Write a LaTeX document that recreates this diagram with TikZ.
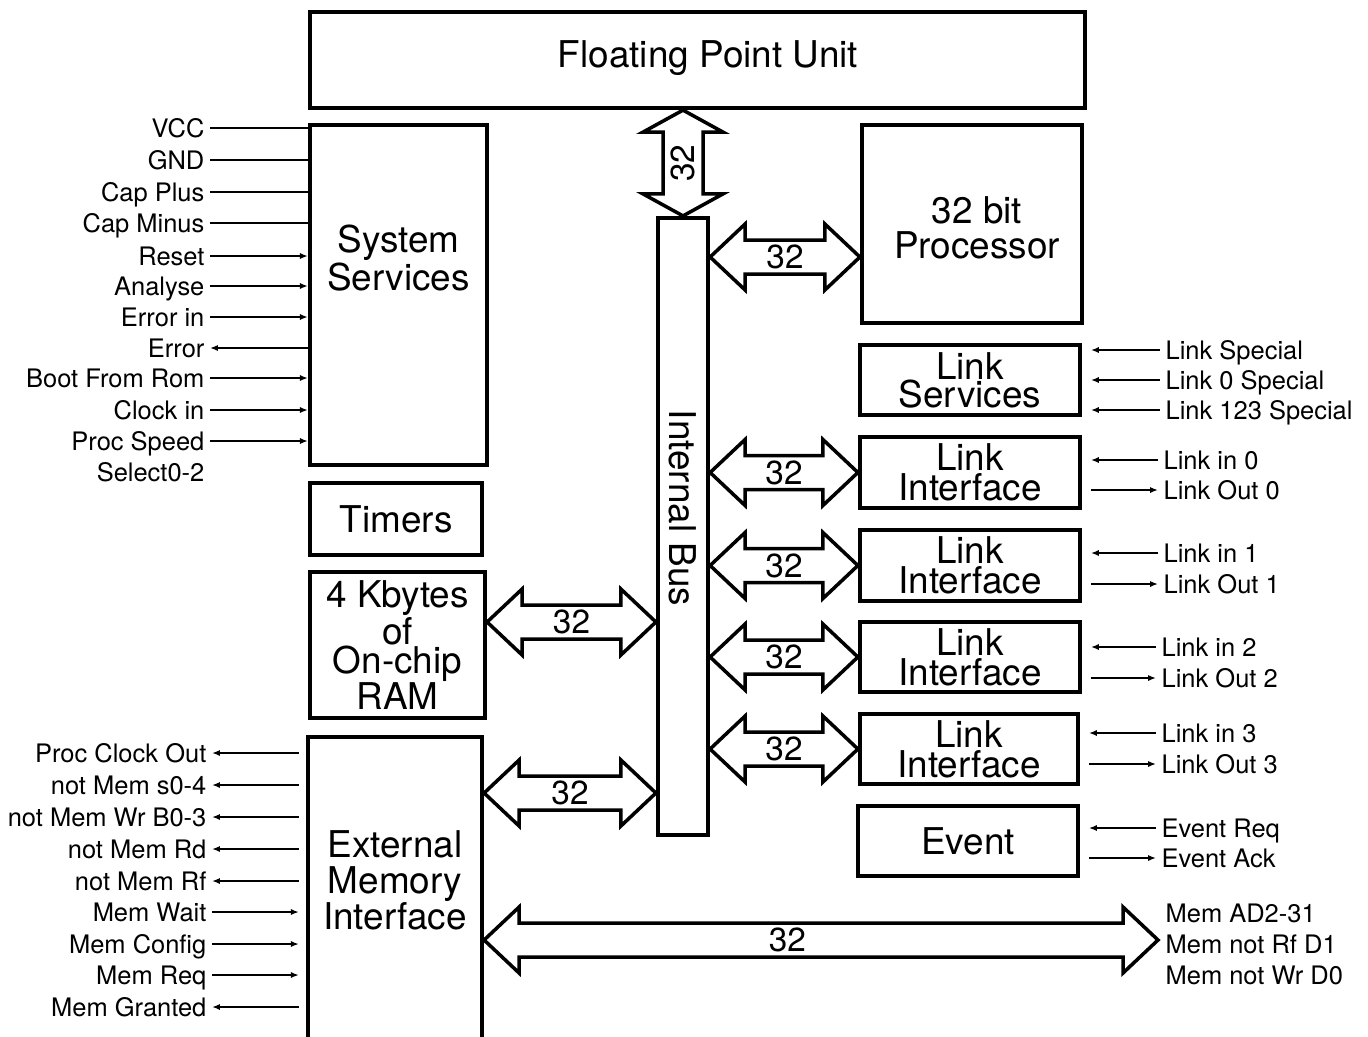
\documentclass[tikz,border=0pt]{standalone}
\usepackage{fontspec}
\setmainfont{TeX Gyre Heros}
\usetikzlibrary{arrows.meta, positioning, calc, fit}

\tikzset{
  blk/.style={draw, line width=2.4pt, inner sep=0pt},
  big/.style={font=\fontsize{21}{#1}\selectfont, align=center, inner sep=0pt},
  big/.default=20,
  sig/.style={font=\fontsize{14.5}{16}\selectfont, inner sep=3pt, text height=10.4pt, text depth=0pt},
  wire/.style={line width=0.9pt},
  fat/.style={draw, line width=2pt, fill=white, line join=miter},
  num/.style={font=\fontsize{19}{19}\selectfont, inner sep=0pt}
}

% fat 32 bit bus arrow between two tips on one row
\newcommand{\busarrow}[3][0.5]{%
  \draw[fat] (#2) -- ($(#2)+(35,-33)$) -- ($(#2)+(35,-17)$) -- ($(#3)+(-35,-17)$)
    -- ($(#3)+(-35,-33)$) -- (#3) -- ($(#3)+(-35,33)$) -- ($(#3)+(-35,17)$)
    -- ($(#2)+(35,17)$) -- ($(#2)+(35,33)$) -- cycle;
  \node[num] at ($(#2)!#1!(#3)$) {32};}

\begin{document}
\begin{tikzpicture}[x=0.02cm, y=-0.02cm, >={Latex[length=4.5pt, width=3.5pt]}]
  \useasboundingbox (0,0) rectangle (1368,1036);
  % Blocks
  \node[blk, fit={(310,12) (1085,108)}] (fpu) {};
  \node[big] at (708,58) {Floating Point Unit};
  \node[blk, fit={(310,125) (487,465)}] (ss) {};
  \node[big=19] at (ss.center |- 0,258) {System\\Services};
  \node[blk, fit={(310,483) (482,555)}] (tim) {};
  \node[big] at (tim.center) {Timers};
  \node[blk, fit={(310,572) (485,718)}] (ram) {};
  \node[big=16.5] at (ram.center) {4 Kbytes\\of\\On-chip\\RAM};
  \node[blk, fit={(308,737) (482,1040)}] (emi) {};
  \node[big=20.5] at (emi.center |- 0,880) {External\\Memory\\Interface};
  \node[blk, fit={(658,218) (708,835)}] (ibus) {};
  \node[big, rotate=-90] at (ibus.center |- 0,508) {Internal Bus};
  \node[blk, fit={(862,125) (1082,323)}] (cpu) {};
  \node[big] at (977,228) {32 bit\\Processor};
  \node[blk, fit={(860,345) (1080,415)}] (ls) {};
  \node[big=16] at (ls.center) {Link\\Services};
  \node[blk, fit={(860,437) (1080,508)}] (li0) {};
  \node[big=17] at (li0.center) {Link\\Interface};
  \node[blk, fit={(860,530) (1080,601)}] (li1) {};
  \node[big=17] at (li1.center) {Link\\Interface};
  \node[blk, fit={(860,622) (1080,692)}] (li2) {};
  \node[big=17] at (li2.center) {Link\\Interface};
  \node[blk, fit={(860,714) (1078,784)}] (li3) {};
  \node[big=17] at (li3.center) {Link\\Interface};
  \node[blk, fit={(858,806) (1078,876)}] (ev) {};
  \node[big] at (ev.center) {Event};

  % 32 bit paths
  \coordinate (f1) at (ibus.north |- fpu.south);
  \coordinate (f2) at (ibus.north);
  \draw[fat] (f1) -- ($(f1)+(-40,22)$) -- ($(f1)+(-20,22)$) -- ($(f2)+(-20,-22)$)
    -- ($(f2)+(-40,-22)$) -- (f2) -- ($(f2)+(40,-22)$) -- ($(f2)+(20,-22)$)
    -- ($(f1)+(20,22)$) -- ($(f1)+(40,22)$) -- cycle;
  \node[num, rotate=90] at ($(f1)!0.5!(f2)$) {32};
  \coordinate (p1) at (ibus.east |- 0,257); \coordinate (p2) at (cpu.west |- p1);
  \busarrow{p1}{p2}
  \coordinate (l0a) at (ibus.east |- li0.west); \coordinate (l0b) at (li0.west);
  \busarrow{l0a}{l0b}
  \coordinate (l1a) at (ibus.east |- li1.west); \coordinate (l1b) at (li1.west);
  \busarrow{l1a}{l1b}
  \coordinate (l2a) at (ibus.east |- li2.west); \coordinate (l2b) at (li2.west);
  \busarrow{l2a}{l2b}
  \coordinate (l3a) at (ibus.east |- li3.west); \coordinate (l3b) at (li3.west);
  \busarrow{l3a}{l3b}
  \coordinate (r1) at (ram.east |- 0,622); \coordinate (r2) at (ibus.west |- r1);
  \busarrow{r1}{r2}
  \coordinate (e1) at (emi.east |- 0,793); \coordinate (e2) at (ibus.west |- e1);
  \busarrow{e1}{e2}
  \coordinate (m1) at (emi.east |- 0,940); \coordinate (m2) at (1158,940);
  \busarrow[0.45]{m1}{m2}

  % System services pins
  \node[sig, anchor=east] (vcc) at (210,128) {VCC}; \draw[wire] (vcc.east) -- (vcc.east -| ss.west);
  \node[sig, anchor=east] (gnd) at (210,160) {GND}; \draw[wire] (gnd.east) -- (gnd.east -| ss.west);
  \node[sig, anchor=east] (capp) at (210,192) {Cap Plus}; \draw[wire] (capp.east) -- (capp.east -| ss.west);
  \node[sig, anchor=east] (capm) at (210,223) {Cap Minus}; \draw[wire] (capm.east) -- (capm.east -| ss.west);
  \node[sig, anchor=east] (rst) at (210,256) {Reset}; \draw[wire,->] (rst.east) -- (rst.east -| ss.west);
  \node[sig, anchor=east] (ana) at (210,286) {Analyse}; \draw[wire,->] (ana.east) -- (ana.east -| ss.west);
  \node[sig, anchor=east] (erri) at (210,317) {Error in}; \draw[wire,->] (erri.east) -- (erri.east -| ss.west);
  \node[sig, anchor=east] (err) at (210,348) {Error}; \draw[wire,<-] (err.east) -- (err.east -| ss.west);
  \node[sig, anchor=east] (bfr) at (210,378) {Boot From Rom}; \draw[wire,->] (bfr.east) -- (bfr.east -| ss.west);
  \node[sig, anchor=east] (clk) at (210,410) {Clock in}; \draw[wire,->] (clk.east) -- (clk.east -| ss.west);
  \node[sig, anchor=east] (psp) at (210,441) {Proc Speed}; \draw[wire,->] (psp.east) -- (psp.east -| ss.west);
  \node[sig, anchor=east] (sel) at (210,472) {Select0-2};

  % Memory interface pins
  \node[sig, anchor=east] (pco) at (212,753) {Proc Clock Out}; \draw[wire,<-,shorten >=4pt] (pco.east) -- (pco.east -| emi.west);
  \node[sig, anchor=east] (ms) at (212,785) {not Mem s0-4}; \draw[wire,<-,shorten >=4pt] (ms.east) -- (ms.east -| emi.west);
  \node[sig, anchor=east] (mwr) at (212,817) {not Mem Wr B0-3}; \draw[wire,<-,shorten >=4pt] (mwr.east) -- (mwr.east -| emi.west);
  \node[sig, anchor=east] (mrd) at (212,849) {not Mem Rd}; \draw[wire,<-,shorten >=4pt] (mrd.east) -- (mrd.east -| emi.west);
  \node[sig, anchor=east] (mrf) at (212,881) {not Mem Rf}; \draw[wire,<-,shorten >=4pt] (mrf.east) -- (mrf.east -| emi.west);
  \node[sig, anchor=east] (mwt) at (212,912) {Mem Wait}; \draw[wire,->,shorten >=4pt] (mwt.east) -- (mwt.east -| emi.west);
  \node[sig, anchor=east] (mcf) at (212,944) {Mem Config}; \draw[wire,->,shorten >=4pt] (mcf.east) -- (mcf.east -| emi.west);
  \node[sig, anchor=east] (mrq) at (212,975) {Mem Req}; \draw[wire,->,shorten >=4pt] (mrq.east) -- (mrq.east -| emi.west);
  \node[sig, anchor=east] (mgr) at (212,1007) {Mem Granted}; \draw[wire,<-,shorten >=4pt] (mgr.east) -- (mgr.east -| emi.west);

  % Link pins
  \node[sig, anchor=west] (lsp) at (1160,350) {Link Special}; \draw[wire,<-,shorten <=5pt] (lsp.west -| ls.east) -- (lsp.west);
  \node[sig, anchor=west] (l0s) at (1160,380) {Link 0 Special}; \draw[wire,<-,shorten <=5pt] (l0s.west -| ls.east) -- (l0s.west);
  \node[sig, anchor=west] (l123s) at (1160,410) {Link 123 Special}; \draw[wire,<-,shorten <=5pt] (l123s.west -| ls.east) -- (l123s.west);
  \node[sig, anchor=west] (lin0) at (1158,460) {Link in 0}; \draw[wire,<-,shorten <=5pt] (lin0.west -| li0.east) -- (lin0.west);
  \node[sig, anchor=west] (lout0) at (1158,490) {Link Out 0}; \draw[wire,->,shorten <=5pt] (lout0.west -| li0.east) -- (lout0.west);
  \node[sig, anchor=west] (lin1) at (1158,553) {Link in 1}; \draw[wire,<-,shorten <=5pt] (lin1.west -| li1.east) -- (lin1.west);
  \node[sig, anchor=west] (lout1) at (1158,584) {Link Out 1}; \draw[wire,->,shorten <=5pt] (lout1.west -| li1.east) -- (lout1.west);
  \node[sig, anchor=west] (lin2) at (1156,647) {Link in 2}; \draw[wire,<-,shorten <=5pt] (lin2.west -| li2.east) -- (lin2.west);
  \node[sig, anchor=west] (lout2) at (1156,678) {Link Out 2}; \draw[wire,->,shorten <=5pt] (lout2.west -| li2.east) -- (lout2.west);
  \node[sig, anchor=west] (lin3) at (1156,733) {Link in 3}; \draw[wire,<-,shorten <=5pt] (lin3.west -| li3.east) -- (lin3.west);
  \node[sig, anchor=west] (lout3) at (1156,764) {Link Out 3}; \draw[wire,->,shorten <=5pt] (lout3.west -| li3.east) -- (lout3.west);
  \node[sig, anchor=west] (evq) at (1156,828) {Event Req}; \draw[wire,<-,shorten <=5pt] (evq.west -| ev.east) -- (evq.west);
  \node[sig, anchor=west] (eva) at (1156,858) {Event Ack}; \draw[wire,->,shorten <=5pt] (eva.west -| ev.east) -- (eva.west);

  % External memory bus pins
  \node[sig, anchor=west] (mad) at (1160,913) {Mem AD2-31};
  \node[sig, anchor=west] (mrfd) at (1160,944) {Mem not Rf D1};
  \node[sig, anchor=west] (mwrd) at (1160,975) {Mem not Wr D0};
\end{tikzpicture}
\end{document}
